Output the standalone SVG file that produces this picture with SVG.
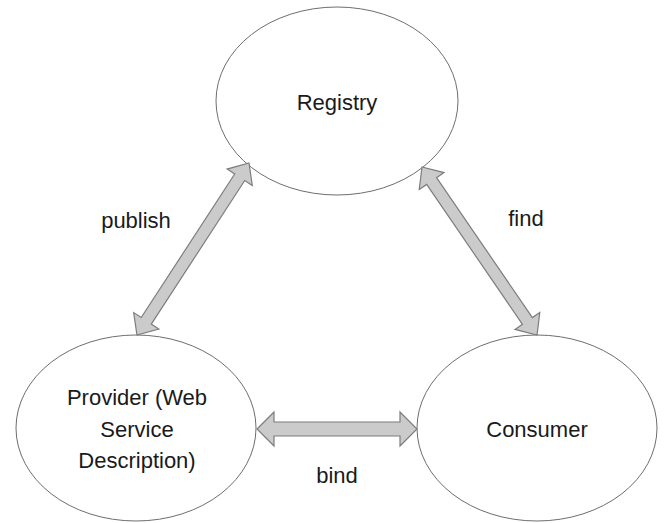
<svg xmlns="http://www.w3.org/2000/svg" width="664" height="523" viewBox="0 0 664 523">
<style>
.node{fill:#ffffff;stroke:#6e6e6e;stroke-width:1}
.lbl{font-family:"Liberation Sans",Arial,sans-serif;font-size:22px;fill:#1a1a1a;text-anchor:middle}
.arr{fill:#cbcbcb;stroke:#7d7d7d;stroke-width:1.2;stroke-linejoin:miter}
</style>
<rect width="664" height="523" fill="#ffffff"/>
<g id="registry">
<ellipse class="node" cx="337" cy="101" rx="121" ry="94"/>
<text class="lbl" x="337" y="110">Registry</text>
</g>
<g id="provider">
<ellipse class="node" cx="136" cy="428" rx="120" ry="93"/>
<text class="lbl" x="137" y="405">Provider (Web</text>
<text class="lbl" x="137" y="437">Service</text>
<text class="lbl" x="137" y="468">Description)</text>
</g>
<g id="consumer">
<ellipse class="node" cx="537" cy="428" rx="120" ry="93"/>
<text class="lbl" x="537" y="437">Consumer</text>
</g>
<g id="connectors">
<polygon class="arr" transform="translate(249,163) rotate(123.07)" points="0,0 17,-15 17,-6 188.3,-6 188.3,-15 205.3,0 188.3,15 188.3,6 17,6 17,15"/>
<polygon class="arr" transform="translate(422,167) rotate(55.6)" points="0,0 17,-15 17,-6 186.6,-6 186.6,-15 203.6,0 186.6,15 186.6,6 17,6 17,15"/>
<polygon class="arr" transform="translate(257,429)" points="0,0 17,-17 17,-7 143,-7 143,-17 160,0 143,17 143,7 17,7 17,17"/>
<text class="lbl" x="136" y="228">publish</text>
<text class="lbl" x="526" y="226">find</text>
<text class="lbl" x="337" y="483">bind</text>
</g>
</svg>
